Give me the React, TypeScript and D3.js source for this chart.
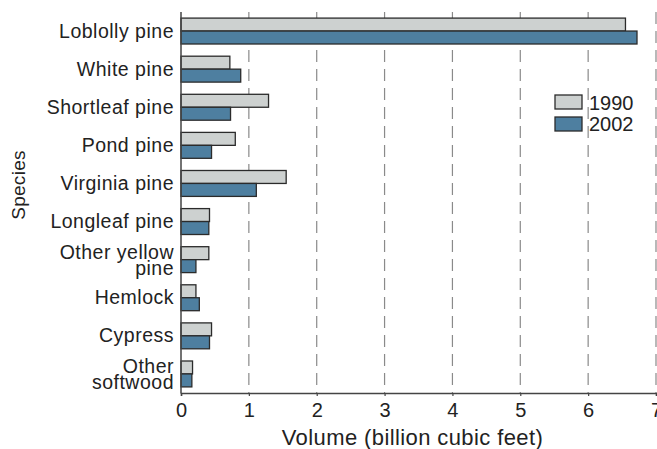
import React, { useRef, useEffect } from "react";
import * as d3 from "d3";

const species = [
  "Loblolly pine",
  "White pine",
  "Shortleaf pine",
  "Pond pine",
  "Virginia pine",
  "Longleaf pine",
  "Other yellow pine",
  "Hemlock",
  "Cypress",
  "Other softwood",
];
const labelLines: string[][] = [
  ["Loblolly pine"],
  ["White pine"],
  ["Shortleaf pine"],
  ["Pond pine"],
  ["Virginia pine"],
  ["Longleaf pine"],
  ["Other yellow", "pine"],
  ["Hemlock"],
  ["Cypress"],
  ["Other", "softwood"],
];
const years = ["1990", "2002"];
const vol1990 = [6.55, 0.72, 1.29, 0.8, 1.55, 0.42, 0.41, 0.22, 0.45, 0.17];
const vol2002 = [6.72, 0.88, 0.73, 0.45, 1.11, 0.41, 0.22, 0.27, 0.42, 0.16];
const xTicks = [0, 1, 2, 3, 4, 5, 6, 7];

const colors = ["#cdd1d0", "#4e7fa0"];
const font = "'Liberation Sans', Arial, sans-serif";

export default function App() {
  const ref = useRef<SVGSVGElement>(null);

  useEffect(() => {
    if (!ref.current) return;
    const svg = d3.select(ref.current);
    svg.selectAll("*").remove();

    const width = 657;
    const height = 449;
    const left = 181, right = 656, top = 12, bottom = 393;

    const x = d3.scaleLinear().domain([0, 7]).range([left, right]);
    const y = d3.scaleBand<string>().domain(species).range([top, bottom])
      .paddingInner(0.32).paddingOuter(0.16);
    const sub = d3.scaleBand<string>().domain(years).range([0, y.bandwidth()]);

    svg.attr("width", width).attr("height", height);

    // dashed gridlines
    svg.append("g").selectAll("line")
      .data(xTicks.slice(1))
      .join("line")
      .attr("x1", d => x(d)).attr("x2", d => x(d))
      .attr("y1", top).attr("y2", bottom)
      .attr("stroke", "#8a8a8a")
      .attr("stroke-width", 1.2)
      .attr("stroke-dasharray", "12,7");

    // bars
    const series = [vol1990, vol2002];
    const g = svg.append("g");
    series.forEach((vals, si) => {
      g.selectAll(`rect.s${si}`)
        .data(vals)
        .join("rect")
        .attr("class", `s${si}`)
        .attr("x", x(0))
        .attr("y", (_, i) => (y(species[i]) as number) + (sub(years[si]) as number))
        .attr("width", d => x(d) - x(0))
        .attr("height", sub.bandwidth())
        .attr("fill", colors[si])
        .attr("stroke", "#2b2b2b")
        .attr("stroke-width", 1.3);
    });

    // axes lines
    svg.append("line")
      .attr("x1", left).attr("x2", left).attr("y1", top).attr("y2", bottom + 0.5)
      .attr("stroke", "#444").attr("stroke-width", 1.5);
    const xAxis = svg.append("g").attr("transform", `translate(0,${bottom})`)
      .call(d3.axisBottom(x).tickValues(xTicks).tickFormat(d3.format("d")).tickSize(3).tickPadding(7));
    xAxis.select(".domain").attr("stroke", "#444").attr("stroke-width", 1.5);
    xAxis.selectAll(".tick line").attr("stroke", "#444").attr("stroke-width", 1.2);
    xAxis.selectAll(".tick text")
      .attr("font-family", font).attr("font-size", 20).attr("fill", "#222");

    // category labels
    const lab = svg.append("g");
    labelLines.forEach((lines, i) => {
      const cy = (y(species[i]) as number) + y.bandwidth() / 2;
      const t = lab.append("text")
        .attr("text-anchor", "end")
        .attr("font-family", font).attr("font-size", 19.5)
        .attr("letter-spacing", 0.5).attr("fill", "#222");
      lines.forEach((l, k) => {
        const yy = lines.length === 1 ? cy + 6.5 : cy - 1 + k * 16;
        t.append("tspan").attr("x", 174).attr("y", yy).text(l);
      });
    });

    // axis titles
    svg.append("text")
      .attr("x", (x(0) + x(7)) / 2 - 6).attr("y", 445)
      .attr("text-anchor", "middle")
      .attr("font-family", font).attr("font-size", 22)
      .attr("letter-spacing", 0.4).attr("fill", "#222")
      .text("Volume (billion cubic feet)");
    svg.append("text")
      .attr("transform", "translate(25,185) rotate(-90)")
      .attr("text-anchor", "middle")
      .attr("font-family", font).attr("font-size", 19)
      .attr("letter-spacing", 0.3).attr("fill", "#222")
      .text("Species");

    // legend
    const leg = svg.append("g").attr("transform", "translate(555,95)");
    years.forEach((yr, i) => {
      leg.append("rect")
        .attr("x", 0).attr("y", i * 22)
        .attr("width", 27).attr("height", 14)
        .attr("fill", colors[i]).attr("stroke", "#2b2b2b").attr("stroke-width", 1.3);
      leg.append("text")
        .attr("x", 34).attr("y", i * 21 + 15)
        .attr("font-family", font).attr("font-size", 20).attr("fill", "#222")
        .text(yr);
    });
  }, []);

  return (
    <div style={{ position: "absolute", left: 0, top: 0 }}>
      <svg ref={ref} style={{ display: "block" }} />
    </div>
  );
}
